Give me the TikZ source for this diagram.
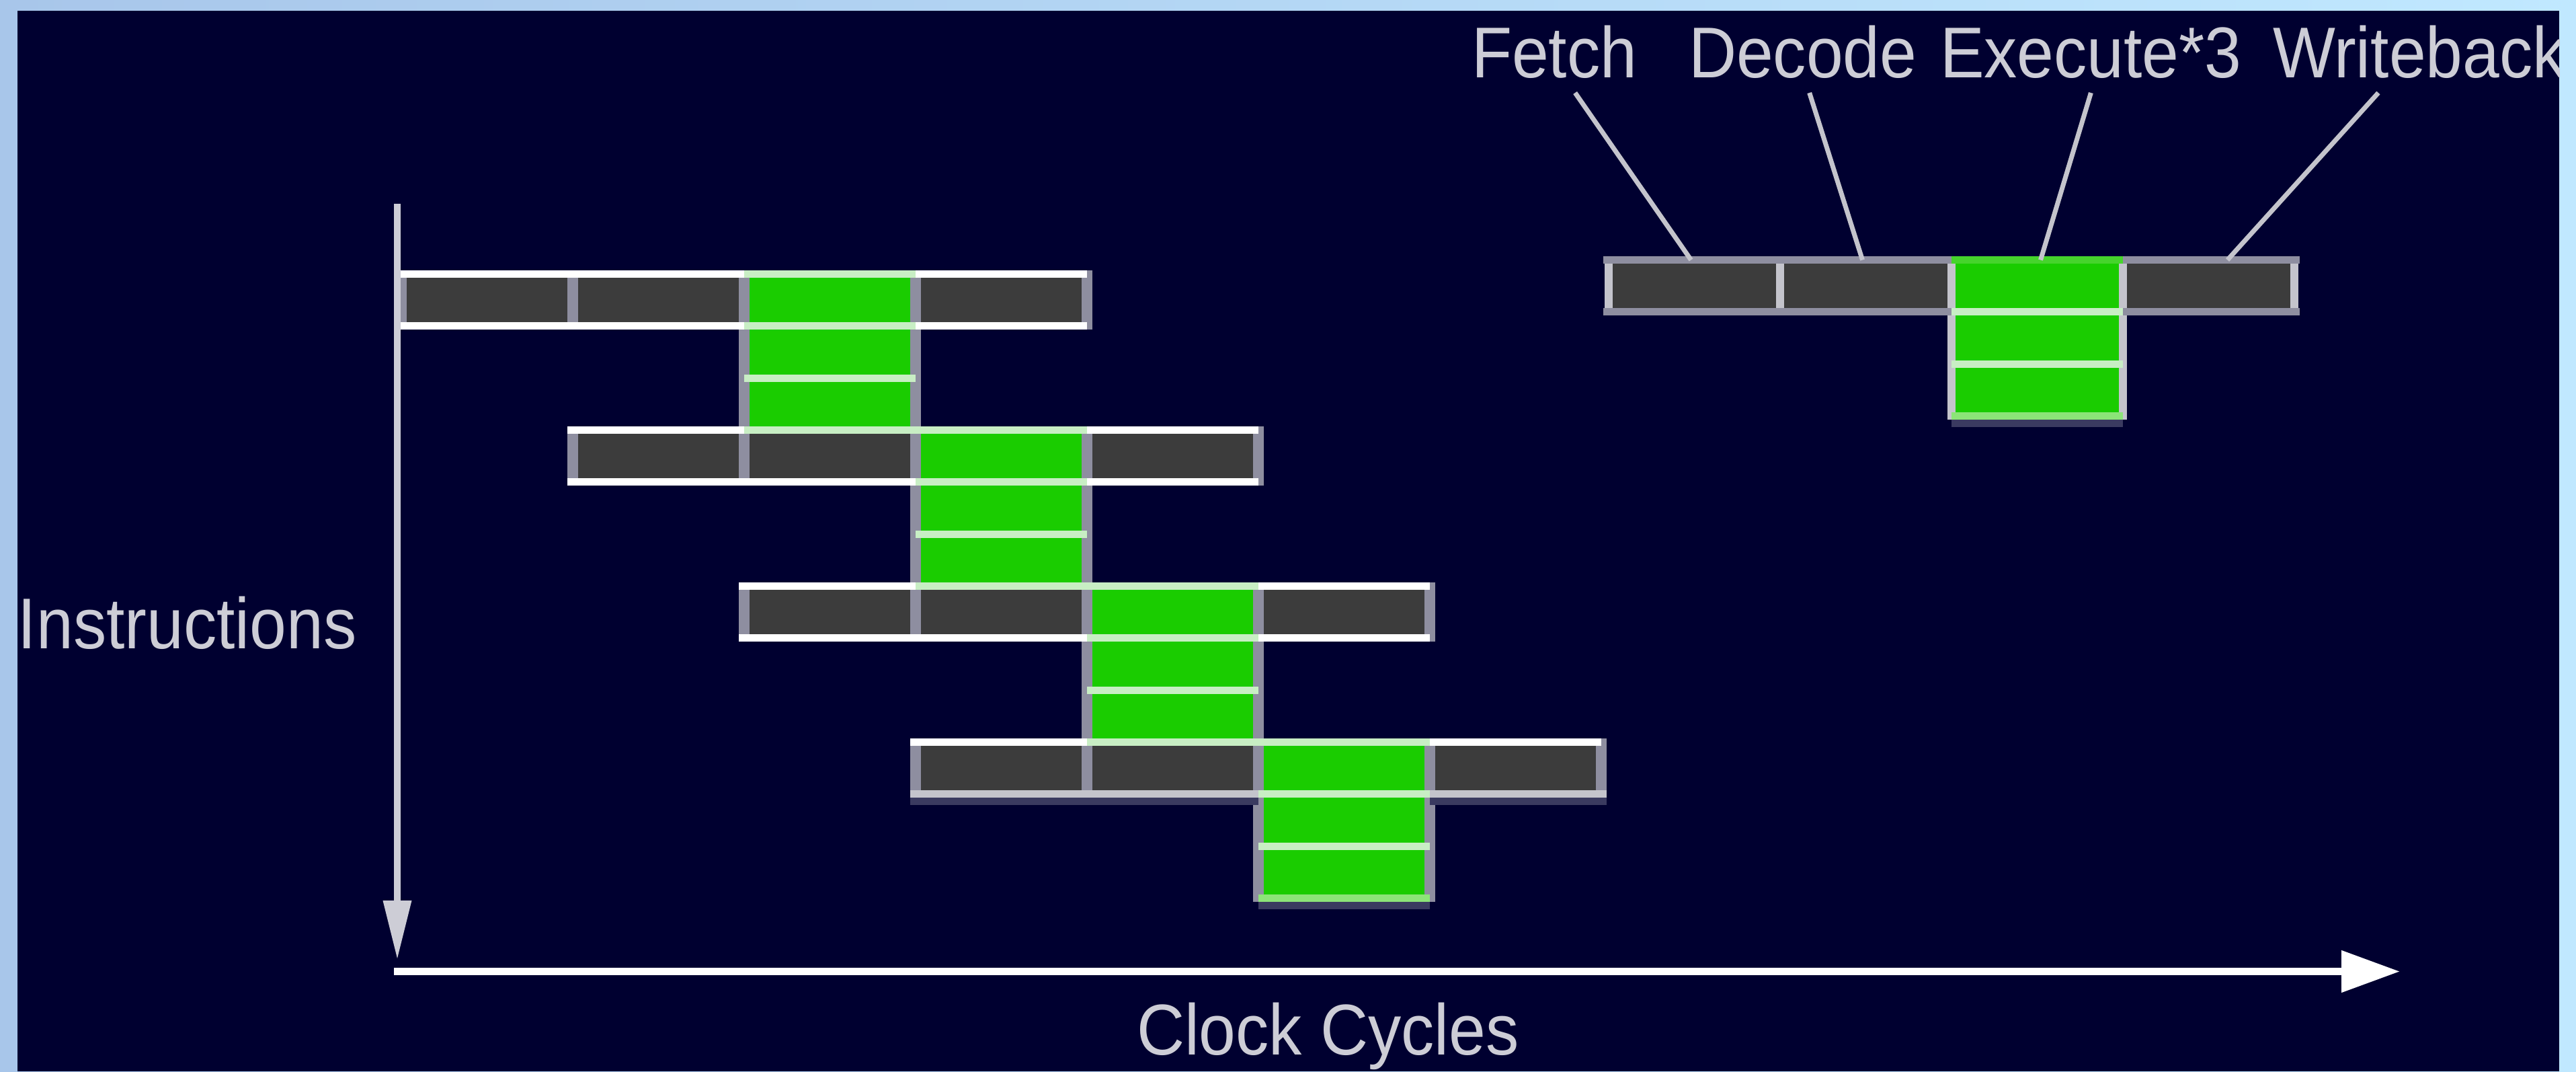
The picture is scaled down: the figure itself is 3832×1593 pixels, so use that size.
\documentclass[tikz,border=0pt]{standalone}
\usepackage{fontspec}
\usetikzlibrary{arrows.meta,calc}
\newfontfamily\lab[FakeStretch=0.92]{Liberation Sans}
\definecolor{bgdark}{RGB}{0,0,48}
\definecolor{frameL}{RGB}{168,198,234}
\definecolor{frameR}{RGB}{192,232,255}
\definecolor{celldark}{RGB}{60,60,60}
\definecolor{cellgreen}{RGB}{26,204,0}
\definecolor{palegreen}{RGB}{200,238,196}
\definecolor{brightgreen}{RGB}{70,212,44}
\definecolor{lightgreen}{RGB}{140,228,120}
\definecolor{sepgray}{RGB}{142,142,160}
\definecolor{lgray}{RGB}{196,196,204}
\definecolor{txtgray}{RGB}{205,205,214}
\definecolor{shadowc}{RGB}{58,58,96}
\begin{document}
\begin{tikzpicture}[x=1pt,y=-1pt,
  dcell/.style={rectangle,inner sep=0pt,outer sep=0pt,minimum width=255pt,minimum height=77.33pt,fill=celldark},
  gcell/.style={dcell,fill=cellgreen},
  vsep/.style={line width=16pt,draw=sepgray,shorten <=-5.5pt,shorten >=-5.5pt},
  lsep/.style={line width=12pt,draw=lgray,shorten <=-5.5pt,shorten >=-5.5pt},
  hw/.style={line width=11pt,draw=white},
  hp/.style={line width=11pt,draw=palegreen},
  hg/.style={line width=11pt,draw=sepgray},
  hlg/.style={line width=11pt,draw=lgray},
  hbg/.style={line width=11pt,draw=brightgreen},
  hlgr/.style={line width=11pt,draw=lightgreen},
  shadowline/.style={line width=11pt,draw=shadowc},
  lbl/.style={inner sep=0pt,outer sep=0pt,anchor=base west,text=txtgray,font=\lab\fontsize{107}{110}\selectfont},
  leader/.style={line width=7pt,draw=lgray},
  vaxis/.style={line width=10pt,draw=txtgray,-{Triangle[length=88pt,width=40pt]}},
  haxis/.style={line width=11pt,draw=white,-{Triangle[length=87pt,width=60pt]}}]
\useasboundingbox (0,0) rectangle (3832,1593);
\shade[left color=frameL,right color=frameR] (0,0) rectangle (3832,1593);
\fill[bgdark] (26,16) rectangle (3807,1593);
\begin{scope}
\clip (26,16) rectangle (3807,1593);
% ---- main pipeline cells
\foreach \j in {0,1,2,3}{
  \foreach \k in {1,2,4}{
    \node[dcell] (r\j-\k) at ({597+255*(\j+\k-1)+127.5},{407.5+232*\j+38.67}) {};
  }
  \node[gcell] (r\j-3) at ({597+255*(\j+2)+127.5},{407.5+232*\j+38.67}) {};
  \node[gcell] (g\j-a) at ({597+255*(\j+2)+127.5},{407.5+232*\j+116}) {};
  \node[gcell] (g\j-b) at ({597+255*(\j+2)+127.5},{407.5+232*\j+193.33}) {};
}
% vertical separators
\foreach \j in {0,1,2,3}{
  \foreach \k in {1,2,3,4}{
    \draw[vsep] (r\j-\k.north west) -- (r\j-\k.south west);
  }
  \draw[vsep] (r\j-4.north east) -- (r\j-4.south east);
  \draw[vsep] (g\j-a.north west) -- (g\j-b.south west);
  \draw[vsep] (g\j-a.north east) -- (g\j-b.south east);
}
% horizontal lines
\foreach \j in {0,1,2,3}{
  \draw[hw] ([xshift=-8pt]r\j-1.north west) -- (r\j-2.north east);
  \draw[hp] (r\j-3.north west) -- (r\j-3.north east);
  \draw[hw] (r\j-4.north west) -- (r\j-4.north east);
  \draw[hw] ([xshift=-8pt]r\j-1.south west) -- (r\j-2.south east);
  \draw[hp] (r\j-3.south west) -- (r\j-3.south east);
  \draw[hw] (r\j-4.south west) -- (r\j-4.south east);
  \draw[hp] (g\j-a.south west) -- (g\j-a.south east);
}
\foreach \j in {0,1,2}{
  \draw[hp] (g\j-b.south west) -- (g\j-b.south east);
}
% last row: lighter bottom edge with shadow
\draw[hlg] ([xshift=-8pt]r3-1.south west) -- (r3-2.south east);
\draw[hlg] (r3-4.south west) -- ([xshift=8pt]r3-4.south east);
\draw[shadowline] ([xshift=-8pt,yshift=-11pt]r3-1.south west) -- ([yshift=-11pt]r3-2.south east);
\draw[shadowline] ([yshift=-11pt]r3-4.south west) -- ([xshift=8pt,yshift=-11pt]r3-4.south east);
\draw[hlgr] (g3-b.south west) -- (g3-b.south east);
\draw[shadowline] ([yshift=-11pt]g3-b.south west) -- ([yshift=-11pt]g3-b.south east);
% ---- legend
\foreach \k in {1,2,4}{
  \node[dcell] (L\k) at ({2393+255*(\k-1)+127.5},425.2) {};
}
\node[gcell] (L3) at (3030.5,425.2) {};
\node[gcell] (La) at (3030.5,502.5) {};
\node[gcell] (Lb) at (3030.5,579.8) {};
\foreach \k in {1,2,3,4}{
  \draw[lsep] (L\k.north west) -- (L\k.south west);
}
\draw[lsep] (L4.north east) -- (L4.south east);
\draw[lsep] (La.north west) -- (Lb.south west);
\draw[lsep] (La.north east) -- (Lb.south east);
\draw[hg] ([xshift=-8pt]L1.north west) -- (L2.north east);
\draw[hbg] (L3.north west) -- (L3.north east);
\draw[hg] (L4.north west) -- ([xshift=8pt]L4.north east);
\draw[hg] ([xshift=-8pt]L1.south west) -- (L2.south east);
\draw[hp] (L3.south west) -- (L3.south east);
\draw[hg] (L4.south west) -- ([xshift=8pt]L4.south east);
\draw[hp] (La.south west) -- (La.south east);
\draw[hlgr] (Lb.south west) -- (Lb.south east);
\draw[shadowline] ([yshift=-11pt]Lb.south west) -- ([yshift=-11pt]Lb.south east);
% ---- labels
\node[lbl] (fetch) at (2189,115) {Fetch};
\node[lbl] (decode) at (2512,115) {Decode};
\node[lbl] (exec) at (2886,115) {Execute*3};
\node[lbl] (wb) at (3381,115) {Writeback};
\node[lbl] (instr) at (27,964) {Instructions};
\node[lbl] (clock) at (1691,1568) {Clock Cycles};
% leader lines
\draw[leader] ($(fetch.base)+(31,23)$) -- ($(L1.north)+(-5,0)$);
\draw[leader] ($(decode.base)+(10,23)$) -- ($(L2.north)+(-5,0)$);
\draw[leader] ($(exec.base)+(0,23)$) -- ($(L3.north)+(5,0)$);
\draw[leader] ($(wb.base)+(-61,23)$) -- ($(L4.north)+(28,0)$);
% ---- axes
\coordinate (ytop) at (591,303);
\coordinate (yend) at (591,1427);
\coordinate (xstart) at (586,1444.5);
\coordinate (xend) at (3570,1444.5);
\draw[vaxis] (ytop) -- (yend);
\draw[haxis] (xstart) -- (xend);
\end{scope}
\end{tikzpicture}
\end{document}
